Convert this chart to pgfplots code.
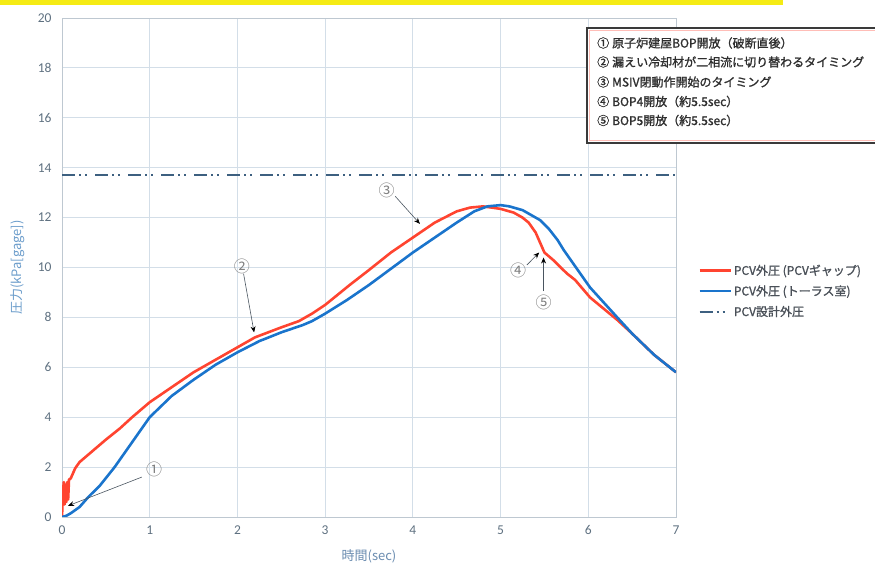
\documentclass[border=0pt]{standalone}
\usepackage{fontspec}
\setmainfont{Carlito}
\newfontfamily\jp{Noto Sans CJK JP}
\newfontfamily\jpb[FakeBold=1.2]{Noto Sans CJK JP}
\usepackage{pgfplots}
\pgfplotsset{compat=1.18}
\usetikzlibrary{arrows.meta}

\definecolor{pcvred}{HTML}{FF4430}
\definecolor{pcvblue}{HTML}{1A74CC}
\definecolor{designc}{HTML}{3D6080}
\definecolor{gridc}{HTML}{D3DEE8}
\definecolor{tickc}{HTML}{5E7080}
\definecolor{ylabc}{HTML}{6C9DCB}
\definecolor{xlabc}{HTML}{6A8CB0}
\definecolor{boxc}{HTML}{3A3A3A}
\definecolor{notec}{HTML}{2E2E2E}
\definecolor{legc}{HTML}{4A5058}
\definecolor{arrowc}{HTML}{4A5560}
\definecolor{yellowbar}{HTML}{F5EB14}

\begin{document}
\begin{tikzpicture}
\fill[yellowbar] (0bp,560bp) rectangle (783bp,565bp);
\begin{axis}[
    at={(62bp,48bp)}, anchor=south west,
    scale only axis, width=614bp, height=499bp,
    xmin=0, xmax=7, ymin=0, ymax=20,
    xtick={0,1,...,7}, ytick={0,2,...,20},
    grid=major,
    major grid style={color=gridc, line width=0.8bp},
    axis line style={draw=gridc!90!black, line width=0.8bp},
    major tick length=0pt,
    /pgf/number format/assume math mode=true,
    tick label style={color=tickc, font=\fontsize{13.5bp}{15bp}\selectfont},
    xticklabel style={yshift=-5bp},
    yticklabel style={xshift=-7bp},
    xlabel={\jp 時間(sec)},
    ylabel={\jp 圧力(kPa[gage])},
    xlabel style={at={(axis description cs:0.5,-0.078)}, anchor=center, color=xlabc, font=\fontsize{13bp}{15bp}\selectfont},
    ylabel style={at={(axis description cs:-0.072,0.5)}, anchor=center, color=ylabc, font=\fontsize{13bp}{15bp}\selectfont},
    legend style={at={(1.036,0.51)}, anchor=north west, draw=none, fill=none,
        font=\jpb\fontsize{12bp}{14bp}\selectfont, text=legc, row sep=5bp, inner sep=0pt},
    legend cell align=left,
    legend image code/.code={\draw[#1] (0bp,0bp) -- (31bp,0bp);},
]
% PCV外圧 (PCVギャップ)
\addplot[pcvred, line width=2.6bp, line join=round] coordinates {
(0,0) (0.01,0.9) (0.02,1.4) (0.03,0.5) (0.04,1.3) (0.05,0.6) (0.06,1.4) (0.07,0.7)
(0.08,1.5) (0.1,1.55) (0.15,1.95) (0.2,2.2) (0.3,2.5) (0.4,2.8) (0.5,3.1)
(0.66,3.55) (0.8,4.0) (1.0,4.6) (1.25,5.2) (1.5,5.8) (1.75,6.3) (2.0,6.8) (2.2,7.2)
(2.5,7.6) (2.7,7.85) (2.85,8.15) (3.0,8.5) (3.28,9.3) (3.5,9.9) (3.75,10.6)
(4.0,11.2) (4.25,11.8) (4.5,12.25) (4.65,12.4) (4.8,12.45) (5.0,12.35) (5.15,12.2)
(5.25,12.0) (5.32,11.8) (5.4,11.4) (5.45,11.0) (5.5,10.6) (5.6,10.3) (5.7,9.95)
(5.76,9.75) (5.85,9.5) (6.02,8.8) (6.33,7.9) (6.5,7.35) (6.75,6.5) (7.0,5.8)
};
\addlegendentry{PCV外圧 (PCVギャップ)}
% PCV外圧 (トーラス室)
\addplot[pcvblue, line width=2.6bp, line join=round] coordinates {
(0,0) (0.05,0.05) (0.1,0.15) (0.2,0.4) (0.3,0.8) (0.43,1.25) (0.6,2.0) (0.75,2.75)
(0.89,3.45) (1.0,4.0) (1.25,4.85) (1.5,5.5) (1.75,6.1) (2.0,6.6) (2.25,7.05)
(2.5,7.4) (2.75,7.7) (2.85,7.85) (3.0,8.15) (3.25,8.7) (3.5,9.3) (3.75,9.95)
(4.0,10.6) (4.25,11.2) (4.5,11.8) (4.7,12.25) (4.85,12.45) (5.0,12.5) (5.1,12.45)
(5.25,12.3) (5.45,11.9) (5.55,11.55) (5.65,11.1) (5.72,10.7) (5.8,10.3)
(6.02,9.2) (6.33,8.0) (6.5,7.35) (6.75,6.5) (7.0,5.8)
};
\addlegendentry{PCV外圧 (トーラス室)}
% PCV設計外圧
\addplot[designc, line width=2bp,
    dash pattern=on 13bp off 4bp on 2bp off 4bp on 2bp off 8bp] coordinates {
(0,13.7) (7,13.7)
};
\addlegendentry{PCV設計外圧}

% annotations
\begin{scope}[arrowc, line width=0.6bp, -{Stealth[length=6bp,width=5bp,black]}]
\draw (axis cs:0.91,1.6) -- (axis cs:0.07,0.45);
\draw (axis cs:2.07,9.75) -- (axis cs:2.19,7.4);
\draw (axis cs:3.8,12.85) -- (axis cs:4.08,11.75);
\draw (axis cs:5.3,10.1) -- (axis cs:5.44,10.6);
\draw (axis cs:5.49,9.05) -- (axis cs:5.49,10.4);
\end{scope}
\begin{scope}[every node/.style={text=gray, font=\jp\fontsize{16bp}{18bp}\selectfont, inner sep=1bp}]
\node at (axis cs:1.05,1.9) {①};
\node at (axis cs:2.05,10.05) {②};
\node at (axis cs:3.7,13.1) {③};
\node at (axis cs:5.2,9.9) {④};
\node at (axis cs:5.49,8.6) {⑤};
\end{scope}
\end{axis}

% note box
\draw[boxc, line width=1.3bp, fill=white] (587bp,422bp) rectangle (880bp,537bp);
\draw[pcvred!35, line width=0.6bp] (589.5bp,424.5bp) rectangle (880bp,534.5bp);
\begin{scope}[every node/.style={anchor=west, text=notec, inner sep=0pt, font=\jpb\fontsize{12bp}{14bp}\selectfont}]
\node at (597bp,522bp) {①\hspace{3bp}原子炉建屋BOP開放（破断直後）};
\node at (597bp,503bp) {②\hspace{3bp}漏えい冷却材が二相流に切り替わるタイミング};
\node at (597bp,483bp) {③\hspace{3bp}MSIV閉動作開始のタイミング};
\node at (597bp,463.5bp) {④\hspace{3bp}BOP4開放（約5.5sec）};
\node at (597bp,444.5bp) {⑤\hspace{3bp}BOP5開放（約5.5sec）};
\end{scope}

\pgfresetboundingbox
\useasboundingbox (0bp,0bp) rectangle (875bp,565bp);
\end{tikzpicture}
\end{document}
